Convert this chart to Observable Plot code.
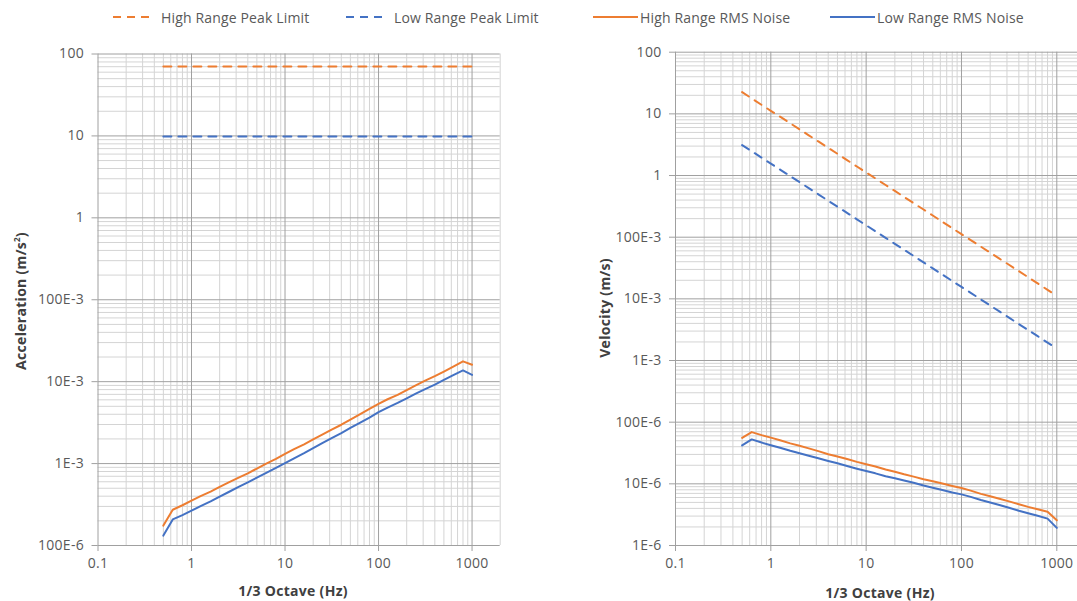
<!DOCTYPE html>
<html><head><meta charset="utf-8">
<script src="https://cdn.jsdelivr.net/npm/d3@7"></script>
<script src="https://cdn.jsdelivr.net/npm/@observablehq/plot@0.6"></script>
<style>
html,body{margin:0;padding:0;background:#fff;overflow:hidden;}
#root{position:relative;width:1077px;height:601px;overflow:hidden;font-family:"Open Sans",sans-serif;}
.leg{position:absolute;top:8px;height:18px;display:flex;align-items:center;font-size:14px;letter-spacing:0.15px;color:#595959;white-space:nowrap;}
.leg svg{margin-right:2px}
.ytitle{position:absolute;font-weight:bold;font-size:14px;letter-spacing:0.3px;color:#404040;transform:translate(-50%,-50%) rotate(-90deg);white-space:nowrap;}
.xtitle{position:absolute;font-weight:bold;font-size:14px;letter-spacing:0.3px;color:#404040;transform:translate(-50%,-50%);white-space:nowrap;}
.panel{position:absolute;top:0;}
.panel text{letter-spacing:0.3px;}
</style></head><body><div id="root"></div>
<script>
// 1/3 octave band centre frequencies (Hz)
const freq = [0.5,0.63,0.8,1,1.25,1.6,2,2.5,3.15,4,5,6.3,8,10,12.5,16,20,25,31.5,40,50,63,80,100,125,160,200,250,315,400,500,630,800,1000];

// Acceleration (m/s^2)
const accHighPeak = [70.6,70.6,70.6,70.6,70.6,70.6,70.6,70.6,70.6,70.6,70.6,70.6,70.6,70.6,70.6,70.6,70.6,70.6,70.6,70.6,70.6,70.6,70.6,70.6,70.6,70.6,70.6,70.6,70.6,70.6,70.6,70.6,70.6,70.6];
const accLowPeak = [9.81,9.81,9.81,9.81,9.81,9.81,9.81,9.81,9.81,9.81,9.81,9.81,9.81,9.81,9.81,9.81,9.81,9.81,9.81,9.81,9.81,9.81,9.81,9.81,9.81,9.81,9.81,9.81,9.81,9.81,9.81,9.81,9.81,9.81];
const accHighNoise = [175e-6,273e-6,310e-6,353e-6,400e-6,455e-6,520e-6,590e-6,670e-6,760e-6,870e-6,1.0e-3,1.14e-3,1.31e-3,1.5e-3,1.72e-3,1.97e-3,2.25e-3,2.6e-3,2.98e-3,3.45e-3,4.0e-3,4.65e-3,5.37e-3,6.1e-3,6.9e-3,7.9e-3,9.0e-3,10.3e-3,11.7e-3,13.3e-3,15.3e-3,17.7e-3,16.1e-3];
const accLowNoise = [132e-6,208e-6,235e-6,266e-6,302e-6,345e-6,395e-6,450e-6,515e-6,590e-6,675e-6,770e-6,885e-6,1.01e-3,1.16e-3,1.34e-3,1.54e-3,1.78e-3,2.05e-3,2.36e-3,2.72e-3,3.14e-3,3.65e-3,4.24e-3,4.83e-3,5.5e-3,6.27e-3,7.14e-3,8.1e-3,9.2e-3,10.5e-3,12.0e-3,13.7e-3,12.1e-3];

// Velocity (m/s)
const velHighPeak = [22.5,17.8,14.0,11.2,8.99,7.02,5.62,4.49,3.57,2.81,2.25,1.78,1.40,1.12,0.899,0.702,0.562,0.449,0.357,0.281,0.225,0.178,0.140,0.112,0.0899,0.0702,0.0562,0.0449,0.0357,0.0281,0.0225,0.0178,0.0140,0.0112];
const velLowPeak = [3.12,2.48,1.95,1.56,1.25,0.976,0.781,0.625,0.496,0.390,0.312,0.248,0.195,0.156,0.125,0.0976,0.0781,0.0625,0.0496,0.0390,0.0312,0.0248,0.0195,0.0156,0.0125,0.00976,0.00781,0.00625,0.00496,0.00390,0.00312,0.00248,0.00195,0.00156];
const velHighNoise = [55.7e-6,69.0e-6,61.7e-6,56.2e-6,50.9e-6,45.3e-6,41.4e-6,37.6e-6,33.9e-6,30.2e-6,27.7e-6,25.3e-6,22.7e-6,20.8e-6,19.1e-6,17.1e-6,15.7e-6,14.3e-6,13.1e-6,11.9e-6,11.0e-6,10.1e-6,9.25e-6,8.55e-6,7.77e-6,6.87e-6,6.29e-6,5.73e-6,5.20e-6,4.66e-6,4.23e-6,3.87e-6,3.52e-6,2.56e-6];
const velLowNoise = [42.0e-6,52.6e-6,46.7e-6,42.3e-6,38.5e-6,34.3e-6,31.4e-6,28.6e-6,26.0e-6,23.5e-6,21.5e-6,19.5e-6,17.6e-6,16.1e-6,14.8e-6,13.3e-6,12.3e-6,11.3e-6,10.4e-6,9.39e-6,8.66e-6,7.93e-6,7.26e-6,6.75e-6,6.15e-6,5.47e-6,4.99e-6,4.54e-6,4.09e-6,3.66e-6,3.34e-6,3.03e-6,2.73e-6,1.93e-6];

// Series names and colours
const seriesNames = ["High Range Peak Limit","Low Range Peak Limit","High Range RMS Noise","Low Range RMS Noise"];
const seriesColors = ["#ED7D31","#4472C4","#ED7D31","#4472C4"];
const seriesDashed = [true,true,false,false];

// Tick labels
const xTicks = [0.1,1,10,100,1000];
const xTickLabels = ["0.1","1","10","100","1000"];
const accTicks = [1e-4,1e-3,1e-2,1e-1,1,10,100];
const accTickLabels = ["100E-6","1E-3","10E-3","100E-3","1","10","100"];
const velTicks = [1e-6,1e-5,1e-4,1e-3,1e-2,1e-1,1,10,100];
const velTickLabels = ["1E-6","10E-6","100E-6","1E-3","10E-3","100E-3","1","10","100"];

const root = document.getElementById("root");

// legend
const legendX = [113,346,593,830];
seriesNames.forEach((name,i)=>{
  const d = document.createElement("div");
  d.className = "leg";
  d.style.left = legendX[i]+"px";
  const dash = seriesDashed[i] ? 'stroke-dasharray="8,6"' : '';
  const w = seriesDashed[i] ? 44 : 45;
  d.innerHTML = `<svg width="${w}" height="10"><line x1="0" y1="5" x2="${seriesDashed[i]?36:45}" y2="5" stroke="${seriesColors[i]}" stroke-width="2" ${dash}/></svg><span style="margin-left:${seriesDashed[i]?2:0}px">${name}</span>`;
  root.appendChild(d);
});

function minorTicks(lo, hi, maxV){
  const out = [];
  for (let e = lo; e <= hi; e++) for (let k = 2; k <= 9; k++) { const v = k*Math.pow(10,e); if (v <= maxV*1.0001) out.push(+v.toPrecision(6)); }
  return out;
}

function makePanel({left, width, mL, mR, mT, mB, yTicks, yLabels, yDomain, series}){
  const xMap = new Map(xTicks.map((v,i)=>[v,xTickLabels[i]]));
  const yMap = new Map(yTicks.map((v,i)=>[v,yLabels[i]]));
  const xMinor = minorTicks(-1, 3, 2000);
  const yMinor = minorTicks(Math.round(Math.log10(yDomain[0])), Math.round(Math.log10(yDomain[1]))-1, yDomain[1]);
  const data = [];
  series.forEach((vals, s)=>vals.forEach((v,i)=>data.push({f:freq[i], v, s})));
  const marks = [
    Plot.ruleX(xMinor, {stroke:"#d4d4d4", strokeWidth:1}),
    Plot.ruleY(yMinor, {stroke:"#d4d4d4", strokeWidth:1}),
    Plot.ruleX(xTicks, {stroke:"#a0a0a0", strokeWidth:1}),
    Plot.ruleY(yTicks, {stroke:"#a0a0a0", strokeWidth:1}),
    Plot.axisX({ticks:xTicks, tickFormat:d=>xMap.get(d), tickSize:6, tickPadding:7, stroke:"#a0a0a0", fill:"#595959", fontSize:14, label:null}),
    Plot.axisY({ticks:yTicks, tickFormat:d=>yMap.get(d), tickSize:6, tickPadding:8, stroke:"#a0a0a0", fill:"#595959", fontSize:14, label:null}),
  ];
  [0,1,2,3].forEach(s=>{
    marks.push(Plot.line(data.filter(d=>d.s===s), {x:"f", y:"v", stroke:seriesColors[s], strokeWidth:2, strokeDasharray: seriesDashed[s]?"8,7":null}));
  });
  const svg = Plot.plot({
    width, height:601, marginLeft:mL, marginRight:mR, marginTop:mT, marginBottom:mB,
    style:{fontFamily:"'Open Sans',sans-serif", fontSize:"14px", background:"transparent", color:"#595959"},
    x:{type:"log", domain:[0.1,2000]},
    y:{type:"log", domain:yDomain},
    marks
  });
  svg.classList.add("panel");
  svg.style.left = left+"px";
  root.appendChild(svg);
}

makePanel({left:0, width:540, mL:97.5, mR:40.3, mT:53.5, mB:56, yTicks:accTicks, yLabels:accTickLabels, yDomain:[1e-4,100],
  series:[accHighPeak, accLowPeak, accHighNoise, accLowNoise]});
makePanel({left:540, width:555, mL:135, mR:10, mT:51.7, mB:56, yTicks:velTicks, yLabels:velTickLabels, yDomain:[1e-6,100],
  series:[velHighPeak, velLowPeak, velHighNoise, velLowNoise]});

// axis titles
function addTitle(cls, x, y, html){
  const d = document.createElement("div"); d.className = cls; d.style.left = x+"px"; d.style.top = y+"px"; d.innerHTML = html; root.appendChild(d);
}
addTitle("ytitle", 20, 301, "Acceleration (m/s<sup style='font-size:8px'>2</sup>)");
addTitle("ytitle", 604, 308, "Velocity (m/s)");
addTitle("xtitle", 293, 590, "1/3 Octave (Hz)");
addTitle("xtitle", 880, 592, "1/3 Octave (Hz)");
</script></body></html>
